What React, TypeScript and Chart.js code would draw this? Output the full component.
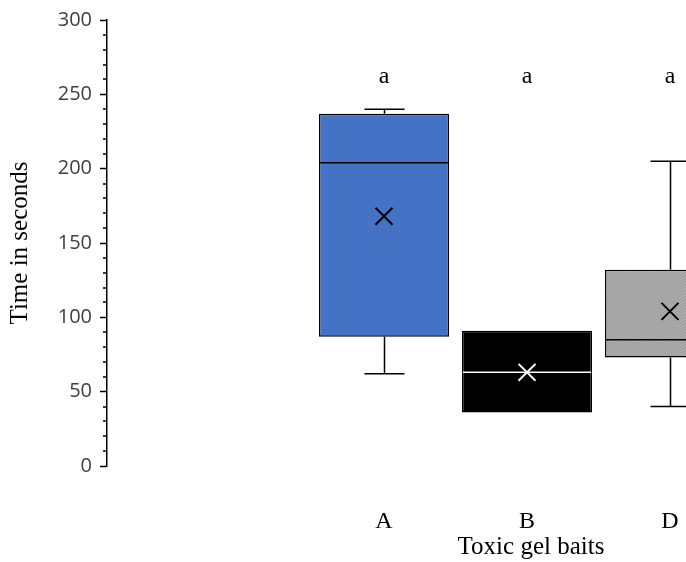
import React, { useEffect, useRef } from 'react';
import { Chart, registerables } from 'chart.js';

Chart.register(...registerables);

// ---- data ----
const categories = ['A', 'B', 'D'];
const positions = [1, 2, 3];
const whiskerLow = [62, 36, 40];
const q1 = [87, 36, 73];
const median = [204, 63, 85];
const q3 = [237, 91, 132];
const whiskerHigh = [240, 91, 205];
const means = [168, 63, 104];
const groupLetters = ['a', 'a', 'a'];
const groupLetterLevel = 262;
const yTicks = [0, 50, 100, 150, 200, 250, 300];
const yMinorStep = 10;

const SERIF = '"Liberation Serif", "Times New Roman", serif';

function makeDotPattern(ctx: CanvasRenderingContext2D): CanvasPattern | string {
  const c = document.createElement('canvas');
  c.width = 3;
  c.height = 3;
  const g = c.getContext('2d');
  if (!g) return '#a6a6a6';
  g.fillStyle = '#acacac';
  g.fillRect(0, 0, 3, 3);
  g.fillStyle = '#9a9a9a';
  g.fillRect(0, 0, 1, 1);
  g.fillRect(2, 1, 1, 1);
  g.fillRect(1, 2, 1, 1);
  return ctx.createPattern(c, 'repeat') || '#a6a6a6';
}

const boxExtras = {
  id: 'boxExtras',
  afterDatasetDraw(chart: any, args: any) {
    if (args.index !== 0) return;
    const { ctx, chartArea } = chart;
    const x = chart.scales.x;
    const y = chart.scales.y;
    const medianColors = ['#000000', '#ffffff', '#000000'];
    ctx.save();
    ctx.beginPath();
    ctx.rect(chartArea.left, chartArea.top, chartArea.right - chartArea.left, chartArea.bottom - chartArea.top);
    ctx.clip();
    positions.forEach((p, i) => {
      const cx = Math.round(x.getPixelForValue(p)) + 0.5;
      const capHalf = x.getPixelForValue(p + 0.14) - x.getPixelForValue(p);
      ctx.strokeStyle = '#000000';
      ctx.lineWidth = 1.5;
      if (whiskerHigh[i] > q3[i]) {
        const yT = y.getPixelForValue(whiskerHigh[i]);
        ctx.beginPath();
        ctx.moveTo(cx, y.getPixelForValue(q3[i]));
        ctx.lineTo(cx, yT);
        ctx.moveTo(cx - capHalf, yT);
        ctx.lineTo(cx + capHalf, yT);
        ctx.stroke();
      }
      if (whiskerLow[i] < q1[i]) {
        const yB = y.getPixelForValue(whiskerLow[i]);
        ctx.beginPath();
        ctx.moveTo(cx, y.getPixelForValue(q1[i]));
        ctx.lineTo(cx, yB);
        ctx.moveTo(cx - capHalf, yB);
        ctx.lineTo(cx + capHalf, yB);
        ctx.stroke();
      }
      const bar = args.meta.data[i];
      const w = bar.width;
      const yM = y.getPixelForValue(median[i]);
      ctx.strokeStyle = medianColors[i];
      ctx.lineWidth = 1.5;
      ctx.beginPath();
      ctx.moveTo(bar.x - w / 2 + 1, yM);
      ctx.lineTo(bar.x + w / 2 - 1, yM);
      ctx.stroke();
    });
    ctx.restore();
  },
  afterDraw(chart: any) {
    const { ctx, chartArea } = chart;
    const x = chart.scales.x;
    const y = chart.scales.y;
    ctx.save();
    // minor ticks
    ctx.strokeStyle = '#000000';
    ctx.lineWidth = 1.5;
    for (let v = y.min; v <= y.max; v += yMinorStep) {
      if (yTicks.includes(v)) continue;
      const py = Math.round(y.getPixelForValue(v));
      ctx.beginPath();
      ctx.moveTo(chartArea.left - 4, py);
      ctx.lineTo(chartArea.left, py);
      ctx.stroke();
    }
    // significance letters
    ctx.fillStyle = '#000000';
    ctx.font = `24px ${SERIF}`;
    ctx.textAlign = 'center';
    ctx.textBaseline = 'middle';
    positions.forEach((p, i) => {
      ctx.fillText(groupLetters[i], x.getPixelForValue(p), y.getPixelForValue(groupLetterLevel));
    });
    ctx.restore();
  },
};

export default function App() {
  const ref = useRef<HTMLCanvasElement | null>(null);
  useEffect(() => {
    const canvas = ref.current;
    if (!canvas) return;
    const ctx = canvas.getContext('2d') as CanvasRenderingContext2D;
    const pattern = makeDotPattern(ctx);
    const boxColors = ['#4472C4', '#000000', pattern];
    const meanColors = ['#000000', '#ffffff', '#000000'];
    const chart = new Chart(canvas, {
      type: 'bar',
      data: {
        datasets: [
          {
            type: 'bar',
            data: positions.map((p, i) => ({ x: p, y: [q1[i], q3[i]] })) as any,
            backgroundColor: boxColors as any,
            borderColor: '#000000',
            borderWidth: 1.5,
            borderSkipped: false,
            barPercentage: 0.91,
            categoryPercentage: 1,
            order: 2,
          } as any,
          {
            type: 'scatter',
            data: positions.map((p, i) => ({ x: p, y: means[i] })),
            pointStyle: 'crossRot',
            pointRadius: 12,
            pointHoverRadius: 12,
            pointBorderColor: meanColors,
            pointBackgroundColor: meanColors,
            pointBorderWidth: 2,
            order: 1,
          } as any,
        ],
      },
      options: {
        animation: false,
        responsive: false,
        events: [],
        layout: { autoPadding: false, padding: { left: 0, top: 20, right: 0, bottom: 0 } },
        plugins: { legend: { display: false }, tooltip: { enabled: false } },
        scales: {
          x: {
            type: 'linear',
            offset: false,
            bounds: 'data',
            min: -0.937,
            max: 4.993,
            grid: { display: false },
            border: { display: false },
            afterBuildTicks: (s: any) => {
              s.ticks = positions.map((v) => ({ value: v }));
            },
            ticks: {
              autoSkip: false,
              maxRotation: 0,
              callback: (v: any) => {
                const idx = positions.indexOf(Number(v));
                return idx >= 0 ? categories[idx] : '';
              },
              font: { family: SERIF, size: 24 },
              color: '#000000',
              padding: 33,
            },
            title: {
              display: true,
              text: 'Toxic gel baits',
              font: { family: SERIF, size: 25 },
              color: '#000000',
              padding: { top: 0, bottom: 0 },
            },
            afterFit: (s: any) => {
              s.height = 96;
              s.paddingLeft = 0;
              s.paddingRight = 0;
            },
          } as any,
          y: {
            type: 'linear',
            min: 0,
            max: 300,
            afterBuildTicks: (s: any) => {
              s.ticks = yTicks.map((v) => ({ value: v }));
            },
            ticks: {
              font: { family: '"Open Sans", sans-serif', size: 20 },
              color: '#404040',
              padding: 8,
            },
            grid: { drawOnChartArea: false, drawTicks: true, tickLength: 7, color: '#000000', tickWidth: 1.5 },
            border: { display: true, color: '#000000', width: 1.5 },
            title: {
              display: true,
              text: 'Time in seconds',
              font: { family: SERIF, size: 25 },
              color: '#000000',
              padding: { top: 5, bottom: 0 },
            },
            afterFit: (s: any) => {
              s.width = 107;
              s.paddingTop = 0;
              s.paddingBottom = 0;
            },
          } as any,
        },
      },
      plugins: [boxExtras],
    });
    return () => chart.destroy();
  }, []);

  return (
    <div
      style={{
        position: 'absolute',
        left: 0,
        top: 0,
        width: 686,
        height: 562,
        overflow: 'hidden',
        background: '#ffffff',
      }}
    >
      <canvas ref={ref} width={955} height={562} style={{ display: 'block' }} />
    </div>
  );
}
